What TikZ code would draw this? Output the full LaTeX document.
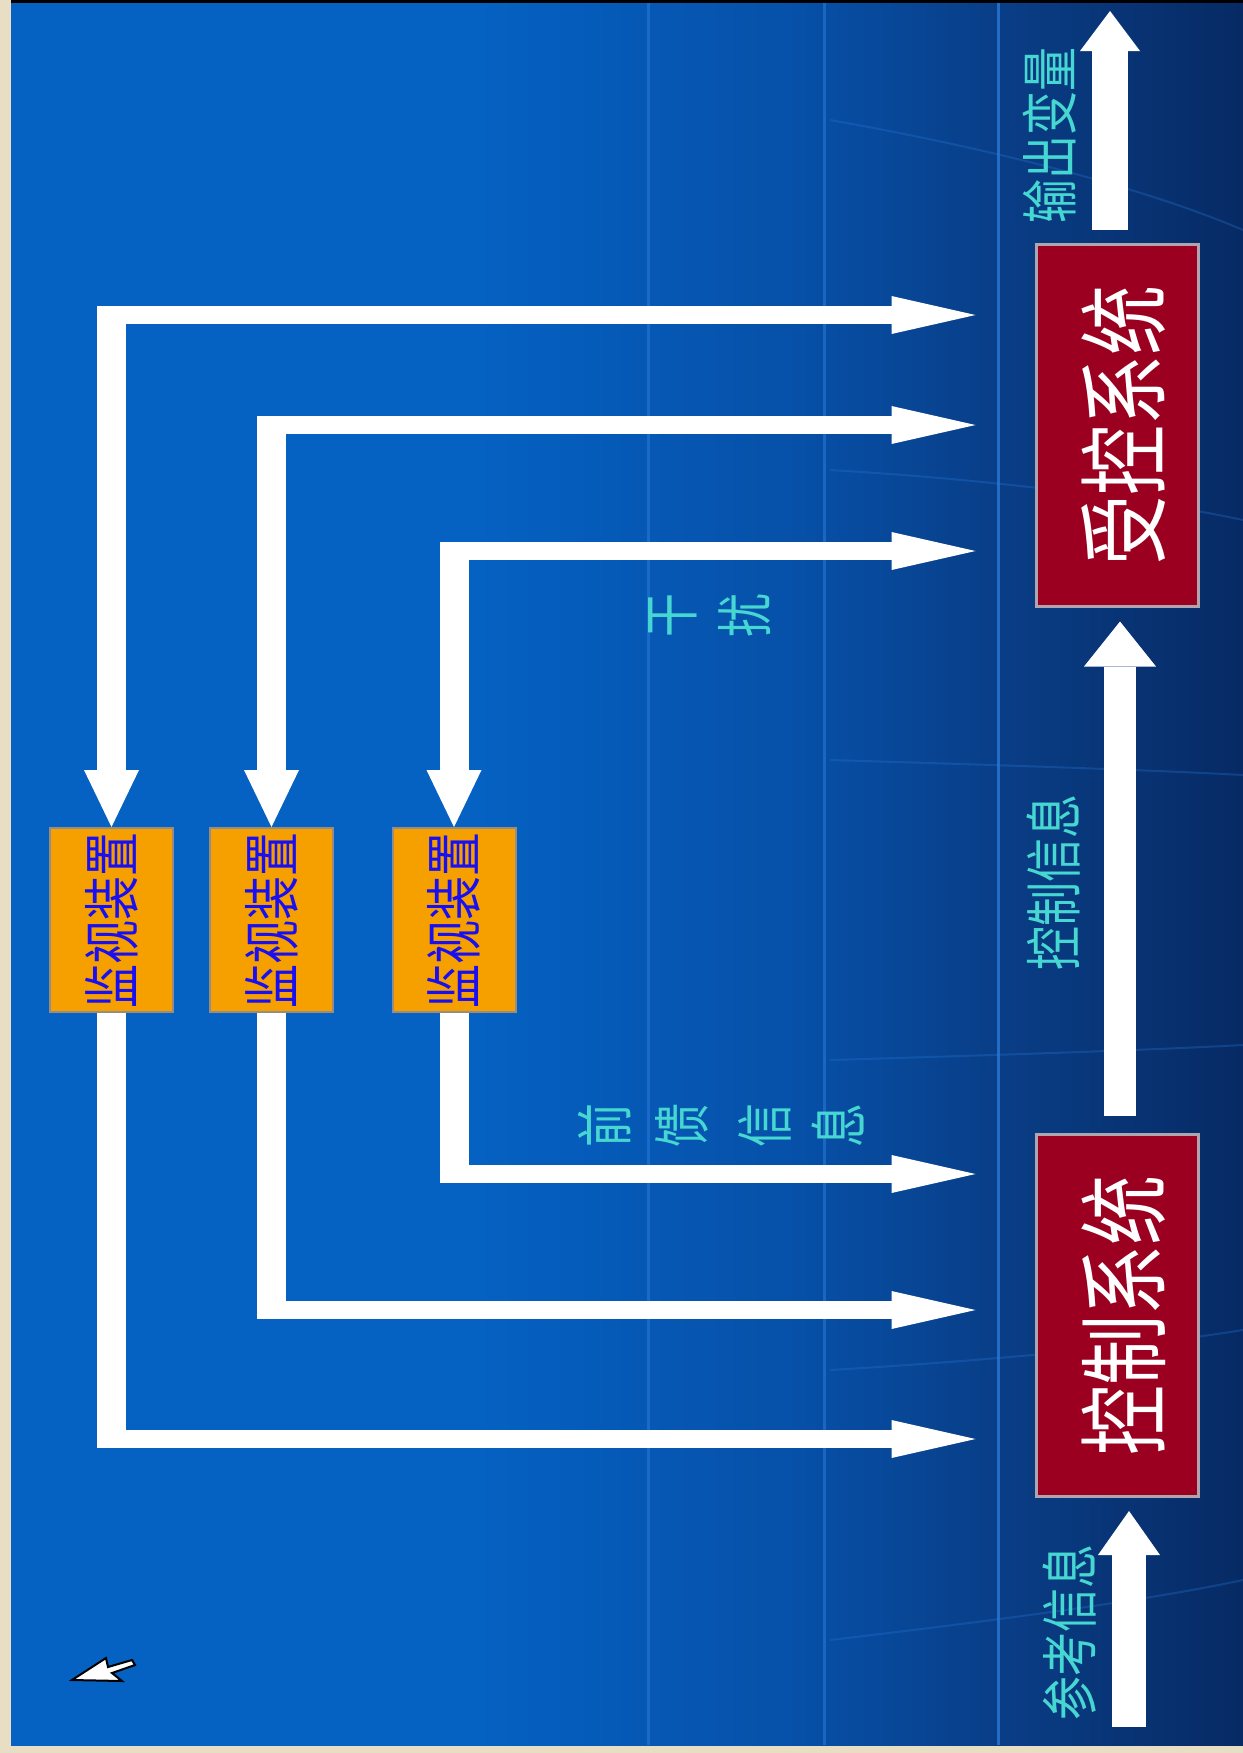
\documentclass[tikz,border=0pt]{standalone}
\usepackage{graphicx}
\usepackage{fontspec}
\newfontfamily\cjk{Noto Sans CJK SC}
\usetikzlibrary{arrows.meta}
\definecolor{bgA}{RGB}{5,97,194}
\definecolor{bgB}{RGB}{6,80,168}
\definecolor{bgC}{RGB}{9,62,135}
\definecolor{bgD}{RGB}{7,42,100}
\definecolor{boxred}{RGB}{155,0,32}
\definecolor{boxredline}{RGB}{175,165,175}
\definecolor{boxorange}{RGB}{246,160,0}
\definecolor{boxorangeline}{RGB}{150,140,130}
\definecolor{montext}{RGB}{25,15,240}
\definecolor{labcyan}{RGB}{70,215,210}
\definecolor{beige}{RGB}{232,222,196}
\definecolor{gridblue}{RGB}{40,120,215}
\pgfdeclarehorizontalshading{bgshade}{100bp}{color(0bp)=(bgA); color(44bp)=(bgA); color(57bp)=(bgB); color(65bp)=(bgC); color(75bp)=(bgD); color(100bp)=(bgD)}
\newcommand\vtext[1]{\rotatebox{90}{\scalebox{1}[1.3]{#1}}}
\tikzset{
  sysbox/.style={draw=boxredline, line width=1.5pt, fill=boxred, minimum width=81pt, minimum height=181pt, inner sep=0pt},
  systext/.style={text=white, inner sep=0pt, font=\cjk\fontsize{35pt}{35pt}\selectfont},
  monbox/.style={draw=boxorangeline, line width=1pt, fill=boxorange, minimum width=61.5pt, minimum height=92pt, inner sep=0pt, text=montext, font=\cjk\fontsize{22pt}{22pt}\selectfont},
  lab/.style={text=labcyan, inner sep=0pt, font=\cjk\fontsize{22pt}{22pt}\selectfont},
  hflow/.style={draw=white, line width=9pt, -{Triangle[width=19pt,length=42pt,line width=0pt]}},
  vflow/.style={draw=white, line width=14.5pt, -{Triangle[width=27.5pt,length=28.5pt,line width=0pt]}},
  vbar/.style={draw=white, line width=14.5pt},
  bigflow/.style n args={3}{draw=white, line width=#1, -{Triangle[width=#2,length=#3,line width=0pt]}},
  faint/.style={draw=gridblue, line width=1pt, opacity=0.3}
}
\begin{document}
\begin{tikzpicture}[x=0.5pt,y=-0.5pt]
\useasboundingbox (0,0) rectangle (1243,1753);
% frame and background
\fill[beige] (0,0) rectangle (1243,1753);
\fill[black] (11,0) rectangle (1243,3);
\shade[shading=bgshade] (11,3) rectangle (1243,1745);
% background grid lines
\draw[draw=gridblue, line width=1.5pt, opacity=0.6] (648,3) -- (648,1745);
\draw[draw=gridblue, line width=1.5pt, opacity=0.6] (824,3) -- (824,1745);
\draw[draw=gridblue, line width=1.5pt, opacity=0.8] (998,3) -- (998,1745);
\draw[faint] (830,120) .. controls (1000,150) and (1150,190) .. (1243,230);
\draw[faint] (830,470) .. controls (1000,480) and (1150,500) .. (1243,520);
\draw[faint] (830,760) .. controls (1000,765) and (1150,770) .. (1243,775);
\draw[faint] (830,1060) .. controls (1000,1055) and (1150,1050) .. (1243,1045);
\draw[faint] (830,1370) .. controls (1000,1360) and (1150,1345) .. (1243,1330);
\draw[faint] (830,1640) .. controls (1000,1620) and (1150,1600) .. (1243,1580);

% system boxes
\node[sysbox] (plant) at (1117,425) {};
\node[systext] (planttxt) at (1124,425) {\vtext{受控系统}};
\node[sysbox] (ctl) at (1117,1315.5) {};
\node[systext] (ctltxt) at (1124,1315.5) {\vtext{控制系统}};

% monitor boxes
\node[monbox] (m1) at (111.5,920) {\vtext{监视装置}};
\node[monbox] (m2) at (271.5,920) {\vtext{监视装置}};
\node[monbox] (m3) at (454,920) {\vtext{监视装置}};

% main vertical arrows
\coordinate (outtip) at (1110,11);
\draw[bigflow={18pt}{30pt}{20pt}] ([xshift=-3.5pt,yshift=6.5pt]plant.north) -- (outtip);
\draw[bigflow={16pt}{36pt}{22.5pt}] ([xshift=1.5pt,yshift=8.5pt]ctl.north) -- ([xshift=1.5pt,yshift=-7pt]plant.south);
\coordinate (refsrc) at (1129,1727);
\draw[bigflow={17pt}{31pt}{22pt}] (refsrc) -- ([xshift=6pt,yshift=-6.5pt]ctl.south);

% loop 1 (outer)
\coordinate (t1) at (97,315);
\coordinate (b1) at (97,1439);
\draw[vflow] (111.5,306) -- (m1.north);
\draw[hflow, shorten >=29.5pt] (t1) -- (plant.west |- t1);
\draw[vbar] (m1.south) -- (111.5,1448);
\draw[hflow, shorten >=29.5pt] (b1) -- (ctl.west |- b1);
% loop 2
\coordinate (t2) at (257,425);
\coordinate (b2) at (257,1310);
\draw[vflow] (271.5,416) -- (m2.north);
\draw[hflow, shorten >=29.5pt] (t2) -- (plant.west |- t2);
\draw[vbar] (m2.south) -- (271.5,1319);
\draw[hflow, shorten >=29.5pt] (b2) -- (ctl.west |- b2);
% loop 3 (inner)
\coordinate (t3) at (439.5,551);
\coordinate (b3) at (439.5,1174);
\draw[vflow] (454,542) -- (m3.north);
\draw[hflow, shorten >=29.5pt] (t3) -- (plant.west |- t3);
\draw[vbar] (m3.south) -- (454,1183);
\draw[hflow, shorten >=29.5pt] (b3) -- (ctl.west |- b3);

% labels
\node[lab] (outlab) at (1050,135) {\vtext{输出变量}};
\node[lab] (ctllab) at (1054,882) {\vtext{控制信息}};
\node[lab] (reflab) at (1070,1632) {\vtext{参考信息}};
\node[lab] (ff1) at (605,1125) {\vtext{前}};
\node[lab] (ff2) at (682,1125) {\vtext{馈}};
\node[lab] (ff3) at (765,1125) {\vtext{信}};
\node[lab] (ff4) at (838,1125) {\vtext{息}};
\node[lab] (dist1) at (673,615) {\vtext{干}};
\node[lab] (dist2) at (745,615) {\vtext{扰}};

% cursor icon
\filldraw[fill=white, draw=black, line width=1pt] (72,1680) -- (106,1658) -- (108,1667) -- (132,1660) -- (135,1665) -- (112,1673) -- (122,1681) -- cycle;
\end{tikzpicture}
\end{document}
